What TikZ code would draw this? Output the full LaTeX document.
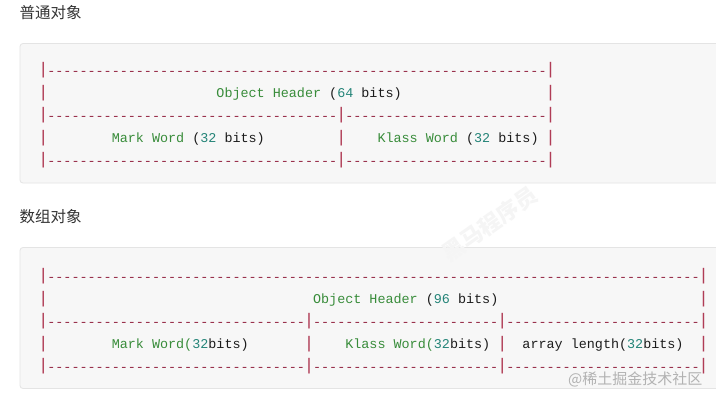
\documentclass[tikz,border=0pt]{standalone}
\usepackage{fontspec}
\setmonofont{Liberation Mono}
\newfontfamily\cjk{Noto Sans CJK SC}
\definecolor{pipecol}{RGB}{176,60,86}
\definecolor{dashcol}{RGB}{150,42,70}
\definecolor{kwgreen}{RGB}{56,140,58}
\definecolor{numteal}{RGB}{36,132,120}
\definecolor{txtblack}{RGB}{28,28,28}
\definecolor{boxbg}{RGB}{247,247,247}
\definecolor{boxline}{RGB}{228,228,228}
\ExplSyntaxOn
\cs_new:Npn \mydashes #1 {\prg_replicate:nn {#1} {-}}
\ExplSyntaxOff
\newcommand\G[1]{\textcolor{kwgreen}{#1}}
\newcommand\N[1]{\textcolor{numteal}{#1}}
\newcommand\B[1]{\textcolor{txtblack}{#1}}
\newcommand\tallpipe{\scalebox{1.3}[1.25]{|}}
\tikzset{
  seg/.style={anchor=base west, inner sep=0pt, outer sep=0pt,
    font=\ttfamily\fontsize{13.42}{16}\selectfont},
  pipe/.style={anchor=center, inner sep=0pt, outer sep=0pt, text=pipecol,
    font=\ttfamily\fontsize{13.42}{16}\selectfont},
  dashrun/.style={seg, text=dashcol},
  codebox/.style={draw=boxline, fill=boxbg, rounded corners=3pt, line width=0.8pt},
  title/.style={anchor=west, inner sep=0pt, text=black!80,
    font=\cjk\fontsize{15.5}{18}\selectfont},
}
% x position of character cell n (left edge) and its centre
\newcommand\cx[1]{(39.3+#1*8.053)}
\newcommand\cc[1]{(39.3+#1*8.053+4.03)}
\begin{document}
\begin{tikzpicture}[x=1pt,y=-1pt]
\useasboundingbox (0,0) rectangle (716,400);
\fill[white] (0,0) rectangle (716,400);

% titles
\node[title] (t1) at (19.5,13) {普通对象};
\node[title] (t2) at (19.5,216.5) {数组对象};

% code boxes
\draw[codebox] (20,43.5) rectangle (730,183);
\draw[codebox] (20,247.5) rectangle (730,388.5);

% ---------- box 1 ----------
% line 1 (centre 70)
\node[pipe] (a1p0) at ({\cc{0}},70.5) {\tallpipe};
\node[dashrun] (a1d) at ({\cx{1}},75) {\mydashes{62}};
\node[pipe] (a1p1) at ({\cc{63}},70.5) {\tallpipe};
% line 2
\node[pipe] (a2p0) at ({\cc{0}},93) {\tallpipe};
\node[seg] (a2t) at ({\cx{22}},97.5) {\G{Object Header} \B{(}\N{64} \B{bits)}};
\node[pipe] (a2p1) at ({\cc{63}},93) {\tallpipe};
% line 3
\node[pipe] (a3p0) at ({\cc{0}},115.5) {\tallpipe};
\node[dashrun] (a3d0) at ({\cx{1}},120) {\mydashes{36}};
\node[pipe] (a3p1) at ({\cc{37}},115.5) {\tallpipe};
\node[dashrun] (a3d1) at ({\cx{38}},120) {\mydashes{25}};
\node[pipe] (a3p2) at ({\cc{63}},115.5) {\tallpipe};
% line 4
\node[pipe] (a4p0) at ({\cc{0}},138) {\tallpipe};
\node[seg] (a4t0) at ({\cx{9}},142.5) {\G{Mark Word} \B{(}\N{32} \B{bits)}};
\node[pipe] (a4p1) at ({\cc{37}},138) {\tallpipe};
\node[seg] (a4t1) at ({\cx{42}},142.5) {\G{Klass Word} \B{(}\N{32} \B{bits)}};
\node[pipe] (a4p2) at ({\cc{63}},138) {\tallpipe};
% line 5
\node[pipe] (a5p0) at ({\cc{0}},160.5) {\tallpipe};
\node[dashrun] (a5d0) at ({\cx{1}},165) {\mydashes{36}};
\node[pipe] (a5p1) at ({\cc{37}},160.5) {\tallpipe};
\node[dashrun] (a5d1) at ({\cx{38}},165) {\mydashes{25}};
\node[pipe] (a5p2) at ({\cc{63}},160.5) {\tallpipe};

% ---------- box 2 ----------
% line 1
\node[pipe] (b1p0) at ({\cc{0}},276.5) {\tallpipe};
\node[dashrun] (b1d) at ({\cx{1}},281) {\mydashes{81}};
\node[pipe] (b1p1) at ({\cc{82}},276.5) {\tallpipe};
% line 2
\node[pipe] (b2p0) at ({\cc{0}},299) {\tallpipe};
\node[seg] (b2t) at ({\cx{34}},303.5) {\G{Object Header} \B{(}\N{96} \B{bits)}};
\node[pipe] (b2p1) at ({\cc{82}},299) {\tallpipe};
% line 3
\node[pipe] (b3p0) at ({\cc{0}},321.5) {\tallpipe};
\node[dashrun] (b3d0) at ({\cx{1}},326) {\mydashes{32}};
\node[pipe] (b3p1) at ({\cc{33}},321.5) {\tallpipe};
\node[dashrun] (b3d1) at ({\cx{34}},326) {\mydashes{23}};
\node[pipe] (b3p2) at ({\cc{57}},321.5) {\tallpipe};
\node[dashrun] (b3d2) at ({\cx{58}},326) {\mydashes{24}};
\node[pipe] (b3p3) at ({\cc{82}},321.5) {\tallpipe};
% line 4
\node[pipe] (b4p0) at ({\cc{0}},344) {\tallpipe};
\node[seg] (b4t0) at ({\cx{9}},348.5) {\G{Mark Word(}\N{32}\B{bits)}};
\node[pipe] (b4p1) at ({\cc{33}},344) {\tallpipe};
\node[seg] (b4t1) at ({\cx{38}},348.5) {\G{Klass Word(}\N{32}\B{bits)}};
\node[pipe] (b4p2) at ({\cc{57}},344) {\tallpipe};
\node[seg] (b4t2) at ({\cx{60}},348.5) {\B{array length(}\N{32}\B{bits)}};
\node[pipe] (b4p3) at ({\cc{82}},344) {\tallpipe};
% line 5
\node[pipe] (b5p0) at ({\cc{0}},366.5) {\tallpipe};
\node[dashrun] (b5d0) at ({\cx{1}},371) {\mydashes{32}};
\node[pipe] (b5p1) at ({\cc{33}},366.5) {\tallpipe};
\node[dashrun] (b5d1) at ({\cx{34}},371) {\mydashes{23}};
\node[pipe] (b5p2) at ({\cc{57}},366.5) {\tallpipe};
\node[dashrun] (b5d2) at ({\cx{58}},371) {\mydashes{24}};
\node[pipe] (b5p3) at ({\cc{82}},366.5) {\tallpipe};

% faint diagonal watermark
\node[rotate=35, text=black!4, font=\cjk\bfseries\fontsize{22}{24}\selectfont, inner sep=0pt] (wm) at (490,224) {黑马程序员};

% corner watermark
\node[anchor=west, inner sep=0pt, text=black!30, font=\cjk\fontsize{15}{17}\selectfont] (wm2) at (568,379) {@稀土掘金技术社区};
\end{tikzpicture}
\end{document}
